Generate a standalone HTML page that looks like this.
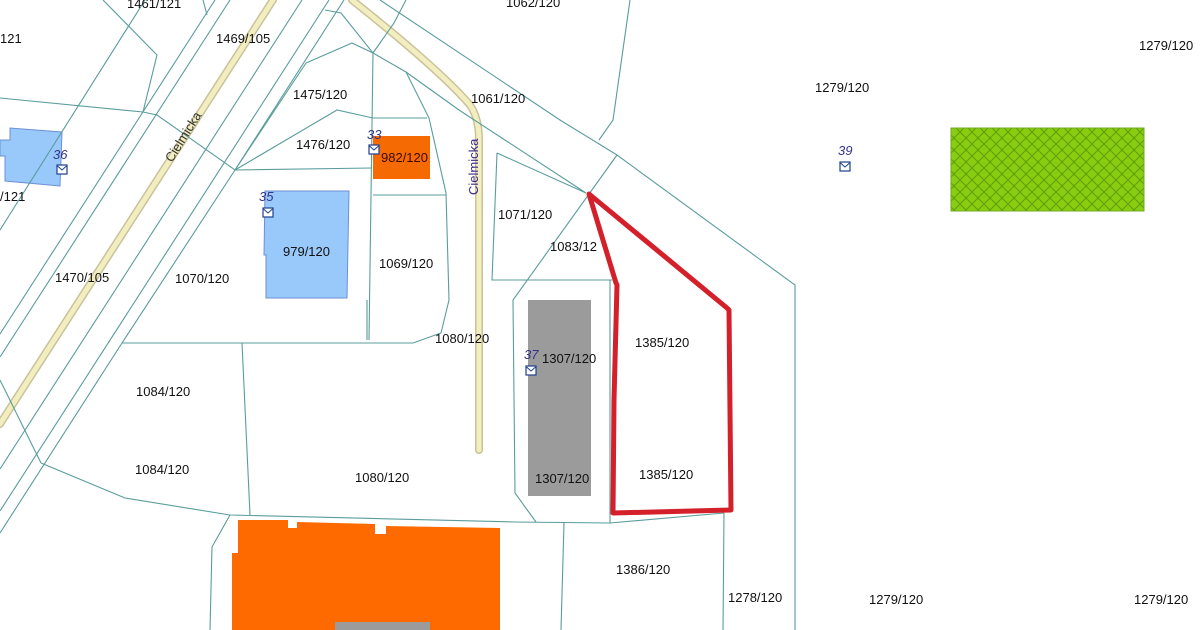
<!DOCTYPE html>
<html><head><meta charset="utf-8"><style>
html,body{margin:0;padding:0;background:#fff;}
svg{display:block;}
text{font-family:"Liberation Sans",Arial,sans-serif;font-size:13px;fill:#111;}
.n{fill:#33338a;font-style:italic;font-size:13px;}
</style></head><body>
<svg width="1200" height="630" viewBox="0 0 1200 630" xmlns="http://www.w3.org/2000/svg">
<defs>
<pattern id="hatch" width="12" height="12" patternUnits="userSpaceOnUse">
<rect width="12" height="12" fill="#8acc10"/>
<path d="M0 0L12 12M12 0L0 12" stroke="#5e9e08" stroke-width="1"/>
</pattern>
<g id="mail"><rect x="0" y="0" width="10" height="9" fill="#fff" stroke="#1f3f8f" stroke-width="1.2"/><path d="M0.5 1L5 5L9.5 1" fill="none" stroke="#1f3f8f" stroke-width="1"/></g>
</defs>
<rect width="1200" height="630" fill="#fff"/>

<polygon points="0,140 10,140 10,128 62,132 60,186 5,181 5,156 0,156" fill="#99c9fb" stroke="#6c8fd6" stroke-width="1"/>
<polygon points="265,191 349,191 347,298 266,298 266,255 264,255" fill="#99c9fb" stroke="#6c8fd6" stroke-width="1"/>
<rect x="373" y="136" width="57" height="43" fill="#f66a04"/>
<rect x="528" y="300" width="63" height="196" fill="#9b9b9b"/>
<rect x="951" y="128" width="193" height="83" fill="url(#hatch)" stroke="#6faa20" stroke-width="1"/>
<polygon points="238,520 288,520 288,528 297,528 297,522 375,524 375,534 386,534 386,526 500,528 500,630 232,630 232,553 238,553" fill="#ff6a00"/>
<rect x="335" y="622" width="95" height="8" fill="#9b9b9b"/>

<g fill="none" stroke-linecap="round">
<path d="M273,0 L0,424" stroke="#c9c29a" stroke-width="8"/>
<path d="M273,0 L0,424" stroke="#f3eec0" stroke-width="5"/>
<path d="M352,0 Q440,70 470,105 Q479,118 479,140 L479,450" stroke="#c9c29a" stroke-width="8"/>
<path d="M352,0 Q440,70 470,105 Q479,118 479,140 L479,450" stroke="#f3eec0" stroke-width="5"/>
</g>

<g fill="none" stroke="#5a9c9c" stroke-width="1.1">
<path d="M103,0 L157,55 L143,112"/>
<path d="M203,0 L207,15"/>
<path d="M215,0 L0,334"/>
<path d="M230,0 L0,357"/>
<path d="M302,0 L0,469"/>
<path d="M329,0 L0,511"/>
<path d="M344,0 L235,170 L122,343 L0,533"/>
<path d="M0,98 L143,112 L157,115 L235,170 L372,168"/>
<path d="M306,63 L352,43 L373,53 L369,340"/>
<path d="M306,63 L235,170"/>
<path d="M235,170 L337,110 L373,118 L427,118"/>
<path d="M325,10 L341,13 L373,53 L406,72 L459,110 L586,193"/>
<path d="M406,0 L394,23 L373,53"/>
<path d="M406,72 L429,118 L446,193 L449,300 L441,333 L413,343 L122,343"/>
<path d="M373,195 L446,195"/>
<path d="M380,0 L560,120 L617,155 L795,285 L795,630"/>
<path d="M630,0 L613,120 L599,140"/>
<path d="M497,153 L492,280 L612,280"/>
<path d="M497,153 L586,193"/>
<path d="M617,155 L513,300 L515,493 L536,522"/>
<path d="M610,280 L610,523"/>
<path d="M41,463 L125,498 L230,515 L515,522 L610,523 L724,513"/>
<path d="M242,343 L250,515"/>
<path d="M367,300 L367,340"/>
<path d="M230,515 L212,547 L210,630"/>
<path d="M564,523 L561,630"/>
<path d="M724,513 L723,630"/>
<path d="M0,380 L41,463"/>
<path d="M145,0 L0,230"/>
</g>

<polygon points="589,194 727,308 729,310 730,411 731,510 613,513 614,400 617,285 616,283" fill="none" stroke="#d4202a" stroke-width="5" stroke-linejoin="round"/>

<text x="0" y="0" transform="translate(172,163) rotate(-58)" style="font-size:13px;fill:#333">Cielmicka</text>
<text x="0" y="0" transform="translate(478,195) rotate(-90)" style="font-size:13px;fill:#3a2a8a">Cielmicka</text>

<text x="127" y="8">1461/121</text>
<text x="0" y="43">121</text>
<text x="216" y="43">1469/105</text>
<text x="506" y="7">1062/120</text>
<text x="1139" y="50">1279/120</text>
<text x="815" y="92">1279/120</text>
<text x="293" y="99">1475/120</text>
<text x="471" y="103">1061/120</text>
<text x="296" y="149">1476/120</text>
<text x="381" y="162" style="fill:#3a0a00">982/120</text>
<text x="0" y="201">/121</text>
<text x="283" y="256">979/120</text>
<text x="498" y="219">1071/120</text>
<text x="550" y="251">1083/12</text>
<text x="55" y="282">1470/105</text>
<text x="175" y="283">1070/120</text>
<text x="379" y="268">1069/120</text>
<text x="435" y="343">1080/120</text>
<text x="542" y="363">1307/120</text>
<text x="635" y="347">1385/120</text>
<text x="136" y="396">1084/120</text>
<text x="135" y="474">1084/120</text>
<text x="355" y="482">1080/120</text>
<text x="535" y="483">1307/120</text>
<text x="639" y="479">1385/120</text>
<text x="616" y="574">1386/120</text>
<text x="728" y="602">1278/120</text>
<text x="869" y="604">1279/120</text>
<text x="1134" y="604">1279/120</text>

<text class="n" x="53" y="159">36</text><use href="#mail" x="57" y="165"/>
<text class="n" x="259" y="201">35</text><use href="#mail" x="263" y="208"/>
<text class="n" x="367" y="139">33</text><use href="#mail" x="369" y="145"/>
<text class="n" x="524" y="359">37</text><use href="#mail" x="526" y="366"/>
<text class="n" x="838" y="155">39</text><use href="#mail" x="840" y="162"/>
</svg>
</body></html>
